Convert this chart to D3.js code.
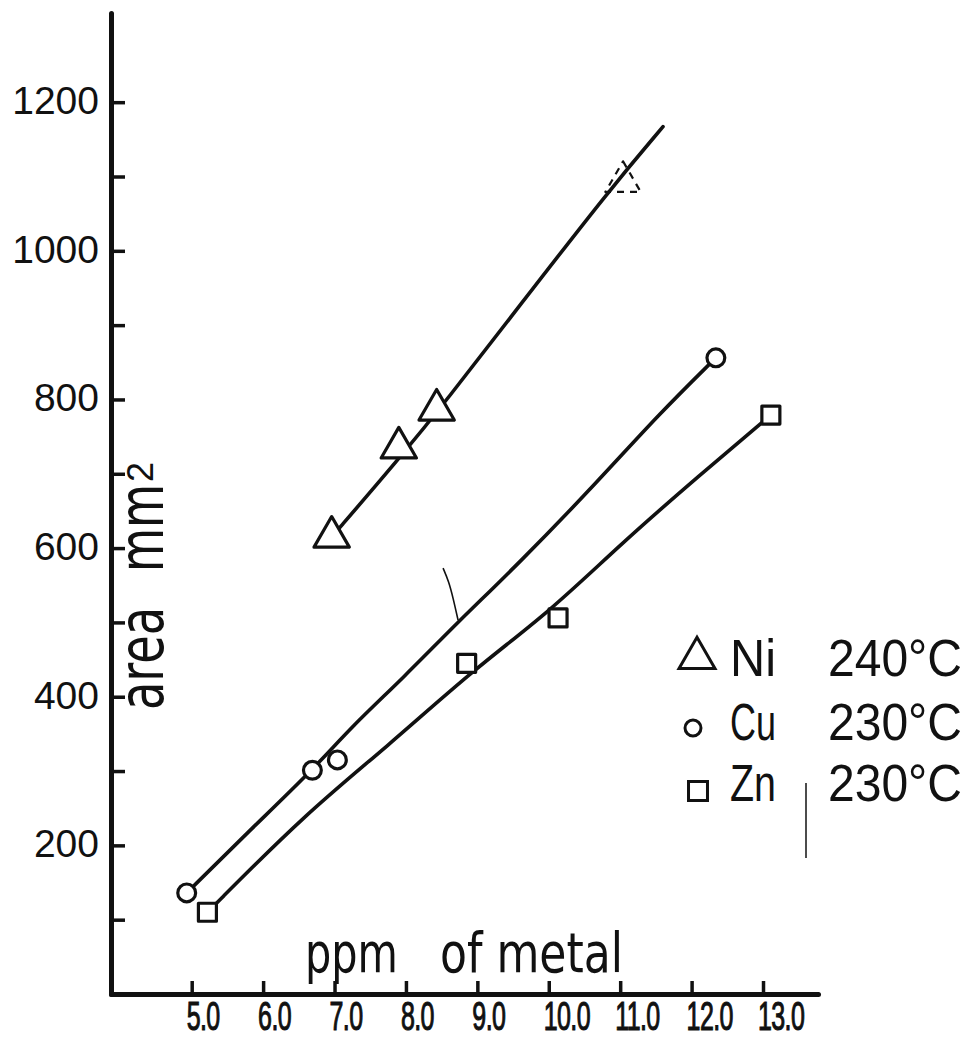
<!DOCTYPE html>
<html>
<head>
<meta charset="utf-8">
<script src="https://cdn.jsdelivr.net/npm/d3@7"></script>
<style>
  html, body { margin: 0; padding: 0; background: #fff; }
  svg { display: block; }
  text { fill: #111; }
</style>
</head>
<body>
<svg id="chart" width="975" height="1038"></svg>
<script>
// ---------- data ----------
const xTicks = [5, 6, 7, 8, 9, 10, 11, 12, 13];
const xTickLabels = ["5.0", "6.0", "7.0", "8.0", "9.0", "10.0", "11.0", "12.0", "13.0"];
const yTicksMajor = [200, 400, 600, 800, 1000, 1200];
const yTickLabels = ["200", "400", "600", "800", "1000", "1200"];
const yTicksMinor = [100, 300, 500, 700, 900, 1100];

// Ni 240°C (triangles)
const niX = [6.96, 7.90, 8.43];
const niY = [615, 735, 786];
const niFaintX = [11.04];
const niFaintY = [1093];
const niCurveX = [6.96, 7.91, 8.57, 9.55, 10.85, 11.60];
const niCurveY = [615, 721, 799, 921, 1082, 1167];

// Cu 230°C (circles)
const cuX = [4.93, 6.69, 7.04, 12.34];
const cuY = [136, 301, 315, 856];
const cuCurveX = [4.93, 5.80, 6.69, 7.25, 7.96, 8.71, 9.59, 10.71, 11.53, 12.34];
const cuCurveY = [136, 219, 301, 361, 425, 499, 580, 692, 779, 856];

// Zn 230°C (squares)
const znX = [5.22, 8.85, 10.13, 13.11];
const znY = [110, 445, 506, 779];
const znCurveX = [5.22, 6.61, 7.73, 8.94, 10.01, 10.99, 12.11, 13.11];
const znCurveY = [110, 244, 332, 436, 514, 604, 698, 779];

// pen mark next to the Cu curve
const penMarkX = [8.52, 8.60, 8.66, 8.73];
const penMarkY = [573, 555, 533, 503];

const legendSymbols = ["triangle", "circle", "square"];
const legendNames = ["Ni", "Cu", "Zn"];
const legendTemps = ["240°C", "230°C", "230°C"];

const xTitleA = "ppm";
const xTitleB = "of metal";
const yTitle = "area";
const yTitleUnit = "mm";
const yTitleSup = "2";

// ---------- layout ----------
const svg = d3.select("#chart");
const ink = "#111";
const x = d3.scaleLinear().domain([3.87, 13.77]).range([111, 818]);
const y = d3.scaleLinear().domain([0, 1320]).range([994, 13]);
const narrow = "'Liberation Sans Narrow', 'DejaVu Sans Condensed', 'Liberation Sans', sans-serif";
const regular = "'Liberation Sans', Arial, sans-serif";

// ---------- axes ----------
const gx = svg.append("g").attr("transform", `translate(0,${y(0)})`)
  .call(d3.axisBottom(x).tickValues(xTicks).tickSize(-13).tickSizeOuter(0).tickFormat(""));
const gyMajor = svg.append("g").attr("transform", `translate(${x.range()[0]},0)`)
  .call(d3.axisLeft(y).tickValues(yTicksMajor).tickSize(-14).tickSizeOuter(0).tickFormat(""));
const gyMinor = svg.append("g").attr("transform", `translate(${x.range()[0]},0)`)
  .call(d3.axisLeft(y).tickValues(yTicksMinor).tickSize(-14).tickSizeOuter(0).tickFormat(""));
[gx, gyMajor, gyMinor].forEach(g => {
  g.select(".domain").attr("stroke", ink).attr("stroke-width", 5).attr("stroke-linecap", "round");
  g.selectAll(".tick line").attr("stroke", ink).attr("stroke-width", 3.5);
});
gyMinor.select(".domain").remove();

// x tick labels (tall, condensed hand lettering)
svg.append("g").selectAll("text").data(xTicks).join("text")
  .attr("transform", d => `translate(${x(d) - 5},1030) scale(1,1.6)`)
  .attr("font-family", regular)
  .attr("font-size", 25)
  .attr("letter-spacing", -0.6)
  .attr("stroke", ink).attr("stroke-width", 0.7)
  .text((d, i) => xTickLabels[i]);

// y tick labels
svg.append("g").selectAll("text").data(yTicksMajor).join("text")
  .attr("x", 99)
  .attr("y", d => y(d) + 12)
  .attr("text-anchor", "end")
  .attr("font-family", regular)
  .attr("font-size", 39)
  .text((d, i) => yTickLabels[i]);

// axis titles
svg.append("text").attr("x", 305).attr("y", 972)
  .attr("font-family", narrow).attr("font-size", 55)
  .attr("textLength", 93).attr("lengthAdjust", "spacingAndGlyphs").text(xTitleA);
svg.append("text").attr("x", 440).attr("y", 972)
  .attr("font-family", narrow).attr("font-size", 55)
  .attr("textLength", 183).attr("lengthAdjust", "spacingAndGlyphs").text(xTitleB);

svg.append("text").attr("transform", "translate(163,710) rotate(-90)")
  .attr("font-family", narrow).attr("font-size", 62)
  .attr("textLength", 103).attr("lengthAdjust", "spacingAndGlyphs").text(yTitle);
svg.append("text").attr("transform", "translate(163,572) rotate(-90)")
  .attr("font-family", narrow).attr("font-size", 62)
  .attr("textLength", 88).attr("lengthAdjust", "spacingAndGlyphs").text(yTitleUnit);
svg.append("text").attr("transform", "translate(153,482) rotate(-90)")
  .attr("font-family", regular).attr("font-size", 36).text(yTitleSup);

// ---------- curves ----------
const line = d3.line().x(d => x(d[0])).y(d => y(d[1])).curve(d3.curveBasis);
const curves = [
  d3.zip(niCurveX, niCurveY),
  d3.zip(cuCurveX, cuCurveY),
  d3.zip(znCurveX, znCurveY)
];
svg.append("g").selectAll("path").data(curves).join("path")
  .attr("d", line)
  .attr("fill", "none").attr("stroke", ink).attr("stroke-width", 3.6)
  .attr("stroke-linecap", "round").attr("stroke-linejoin", "round");

svg.append("path").attr("d", line(d3.zip(penMarkX, penMarkY)))
  .attr("fill", "none").attr("stroke", ink).attr("stroke-width", 1.6);

// ---------- markers ----------
const symType = { triangle: d3.symbolTriangle, circle: d3.symbolCircle, square: d3.symbolSquare };
const symSize = { triangle: 540, circle: 250, square: 324 };
function drawMarkers(xs, ys, kind, dashed) {
  svg.append("g").selectAll("path").data(d3.zip(xs, ys)).join("path")
    .attr("transform", d => `translate(${x(d[0])},${y(d[1])})`)
    .attr("d", d3.symbol().type(symType[kind]).size(symSize[kind]))
    .attr("fill", dashed ? "none" : "#fff")
    .attr("stroke", ink)
    .attr("stroke-width", dashed ? 2.2 : 3.2)
    .attr("stroke-dasharray", dashed ? "7,6" : null)
    .attr("stroke-linejoin", "round");
}
drawMarkers(niX, niY, "triangle", false);
drawMarkers(niFaintX, niFaintY, "triangle", true);
drawMarkers(cuX, cuY, "circle", false);
drawMarkers(znX, znY, "square", false);

// ---------- legend ----------
const legendRowsY = [676, 740, 801];
const leg = svg.append("g");
legendSymbols.forEach((s, i) => {
  const by = legendRowsY[i];
  const size = s === "triangle" ? 560 : (s === "circle" ? 200 : 360);
  const cy = s === "triangle" ? by - 18 : (s === "circle" ? by - 12 : by - 10);
  leg.append("path")
    .attr("transform", `translate(${s === "triangle" ? 697 : (s === "circle" ? 693 : 698)},${cy})`)
    .attr("d", d3.symbol().type(symType[s]).size(size))
    .attr("fill", "#fff").attr("stroke", ink).attr("stroke-width", 3);
  leg.append("text").attr("x", 730).attr("y", by)
    .attr("font-family", regular).attr("font-size", 52)
    .attr("textLength", 46).attr("lengthAdjust", "spacingAndGlyphs")
    .text(legendNames[i]);
  leg.append("text").attr("x", 828).attr("y", by)
    .attr("font-family", regular).attr("font-size", 52)
    .attr("textLength", 134).attr("lengthAdjust", "spacingAndGlyphs")
    .text(legendTemps[i]);
});

// stray vertical pen stroke beside the legend
svg.append("line").attr("x1", 806).attr("x2", 806).attr("y1", 783).attr("y2", 858)
  .attr("stroke", ink).attr("stroke-width", 1.5);
</script>
</body>
</html>
